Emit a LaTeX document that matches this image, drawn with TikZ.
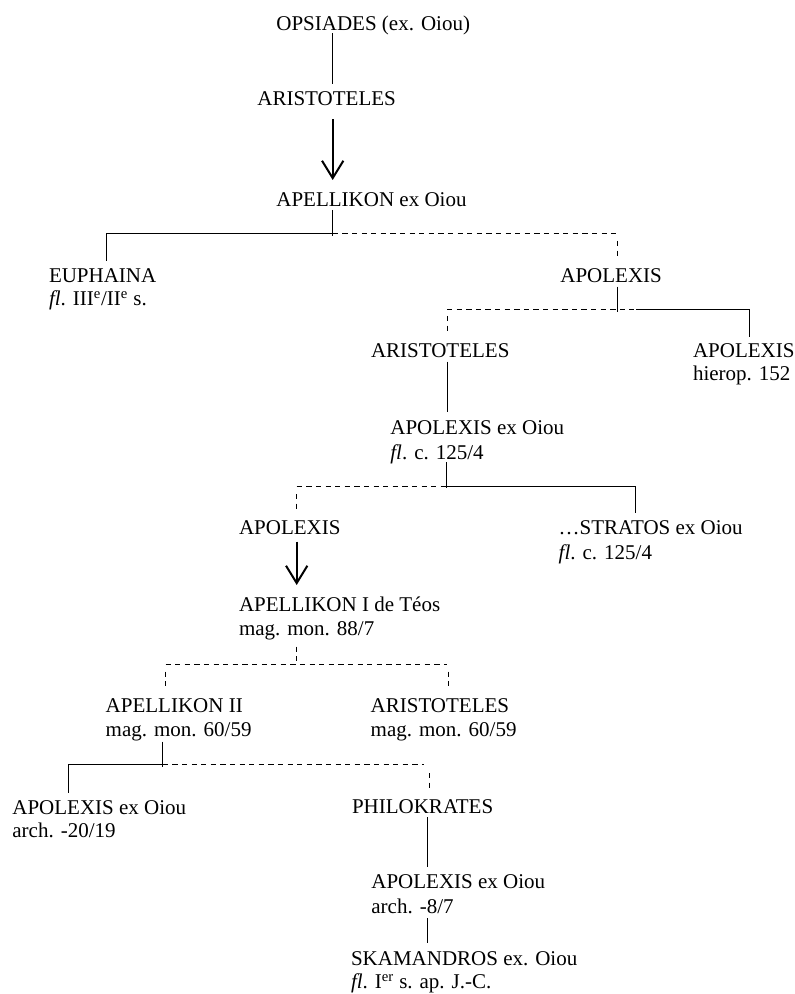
\documentclass[tikz,border=0pt]{standalone}
\usepackage{fontspec}
\setmainfont{Liberation Serif}
\usetikzlibrary{arrows.meta}
\begin{document}
\begin{tikzpicture}[x=0.75pt,y=-0.75pt,
  txt/.style={anchor=base west,inner sep=0pt,outer sep=0pt,font=\fontsize{15.75pt}{18pt}\selectfont},
  solidline/.style={line width=0.75pt,black},
  dashline/.style={line width=0.75pt,black,dash pattern=on 4pt off 3.2pt},
  descent/.style={line width=1.5pt,black,-{Straight Barb[length=13pt,width=16pt]}}]
\useasboundingbox (0,0) rectangle (794,994);
% texts
\node[txt] (opsi) at (276.4,30.7) {OPSIADES (ex. Oiou)};
\node[txt] (ari1) at (257.4,106) {ARISTOTELES};
\node[txt] (ape1) at (276.4,206.7) {APELLIKON ex Oiou};
\node[txt] (euph) at (49,282.5) {EUPHAINA};
\node[txt] (euphb) at (49,305.5) {\textit{fl}. III\textsuperscript{e}/II\textsuperscript{e} s.};
\node[txt] (apo2) at (560.4,282.7) {APOLEXIS};
\node[txt] (ari2) at (371,357) {ARISTOTELES};
\node[txt] (apoh) at (693,357.3) {APOLEXIS};
\node[txt] (apohb) at (693,380) {hierop. 152};
\node[txt] (apoo) at (390.4,434.5) {APOLEXIS ex Oiou};
\node[txt] (apoob) at (390.4,459.5) {\textit{fl}. c. 125/4};
\node[txt] (apo3) at (239,534) {APOLEXIS};
\node[txt] (str) at (558.7,534) {…STRATOS ex Oiou};
\node[txt] (strb) at (558.7,559) {\textit{fl}. c. 125/4};
\node[txt] (apeT) at (239,611.7) {APELLIKON I de Téos};
\node[txt] (apeTb) at (239,635.5) {mag. mon. 88/7};
\node[txt] (apeII) at (105.7,712.7) {APELLIKON II};
\node[txt] (apeIIb) at (105.7,736.7) {mag. mon. 60/59};
\node[txt] (ari3) at (370.7,712.7) {ARISTOTELES};
\node[txt] (ari3b) at (370.7,736.7) {mag. mon. 60/59};
\node[txt] (apoA) at (12.4,814) {APOLEXIS ex Oiou};
\node[txt] (apoAb) at (12.4,837.5) {arch. -20/19};
\node[txt] (philo) at (352,813.3) {PHILOKRATES};
\node[txt] (apoB) at (371.4,888.3) {APOLEXIS ex Oiou};
\node[txt] (apoBb) at (371.4,913.3) {arch. -8/7};
\node[txt] (skam) at (351,965) {SKAMANDROS ex. Oiou};
\node[txt] (skamb) at (351,988.3) {\textit{fl}. I\textsuperscript{er} s. ap. J.-C.};
% coordinates
\coordinate (a1) at (332.7,33.3); \coordinate (a2) at (332.7,84);
\coordinate (b1) at (332.7,119.3); \coordinate (b2) at (332.7,180);
\coordinate (c1) at (332.7,210); \coordinate (c2) at (332.7,236);
\coordinate (cj) at (332.7,233.3); \coordinate (cl) at (106,233.3); \coordinate (cle) at (106,261);
\coordinate (cr) at (617,233.3); \coordinate (cr1) at (617,241); \coordinate (cr2) at (617,256);
\coordinate (d1) at (617,286.7); \coordinate (d2) at (617,311.7);
\coordinate (dl) at (447,309.3); \coordinate (dm) at (634,309.3); \coordinate (dm2) at (636,309.3);
\coordinate (dr) at (749,309.3); \coordinate (dre) at (749,336.7);
\coordinate (dl1) at (447,316); \coordinate (dl2) at (447,331);
\coordinate (e1) at (447,361.7); \coordinate (e2) at (447,411.7);
\coordinate (f1) at (446.5,462); \coordinate (f2) at (446.5,488.3);
\coordinate (fj) at (446.5,486.5); \coordinate (fl) at (296.7,486.5);
\coordinate (fr) at (635,486.5); \coordinate (fre) at (635,513.3);
\coordinate (fl1) at (296.7,494); \coordinate (fl2) at (296.7,509);
\coordinate (g1) at (296.7,541.7); \coordinate (g2) at (296.7,585);
\coordinate (h1) at (296.5,646.7); \coordinate (h2) at (296.5,661);
\coordinate (hl) at (165.5,664); \coordinate (hr) at (447,664);
\coordinate (hl1) at (165,671.7); \coordinate (hl2) at (165,686);
\coordinate (hr1) at (448,671.7); \coordinate (hr2) at (448,686);
\coordinate (i1) at (162.7,741.7); \coordinate (i2) at (162.7,766.7);
\coordinate (ij) at (162.7,764); \coordinate (il) at (68.3,764); \coordinate (ile) at (68.3,792.7);
\coordinate (ir) at (424,764); \coordinate (ir1) at (429.3,773); \coordinate (ir2) at (429.3,788);
\coordinate (k1) at (427.3,817.3); \coordinate (k2) at (427.3,867.3);
\coordinate (m1) at (427.3,918.3); \coordinate (m2) at (427.3,943.3);
% connectors
\draw[solidline] (a1) -- (a2);
\draw[descent] (b1) -- (b2);
\draw[solidline] (c1) -- (c2);
\draw[solidline] (cle) -- (cl) -- (cj);
\draw[dashline] (cj) -- (cr);
\draw[dashline] (cr1) -- (cr2);
\draw[solidline] (d1) -- (d2);
\draw[dashline] (dl) -- (dm);
\draw[solidline] (dm2) -- (dr) -- (dre);
\draw[dashline] (dl1) -- (dl2);
\draw[solidline] (e1) -- (e2);
\draw[solidline] (f1) -- (f2);
\draw[dashline] (fl) -- (fj);
\draw[solidline] (fj) -- (fr) -- (fre);
\draw[dashline] (fl1) -- (fl2);
\draw[descent] (g1) -- (g2);
\draw[dashline] (h1) -- (h2);
\draw[dashline] (hl) -- (hr);
\draw[dashline] (hl1) -- (hl2);
\draw[dashline] (hr1) -- (hr2);
\draw[solidline] (i1) -- (i2);
\draw[solidline] (ile) -- (il) -- (ij);
\draw[dashline] (ij) -- (ir);
\draw[dashline] (ir1) -- (ir2);
\draw[solidline] (k1) -- (k2);
\draw[solidline] (m1) -- (m2);
\end{tikzpicture}
\end{document}
